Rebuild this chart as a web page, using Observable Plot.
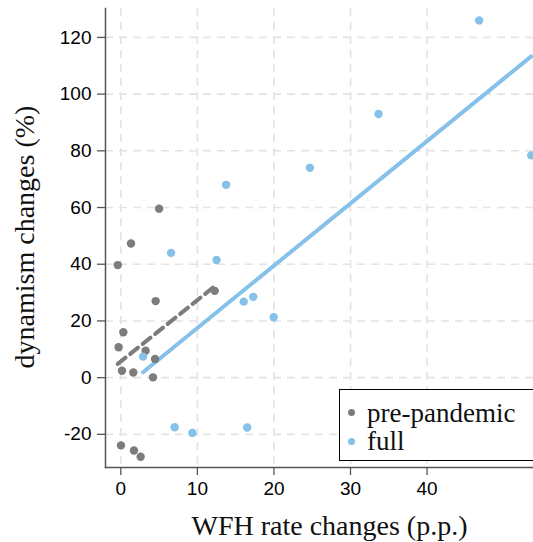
<!DOCTYPE html>
<html>
<head>
<meta charset="utf-8">
<script src="https://cdn.jsdelivr.net/npm/d3@7"></script>
<script src="https://cdn.jsdelivr.net/npm/@observablehq/plot@0.6"></script>
<style>
  html, body { margin: 0; padding: 0; background: #fff; }
  #wrap { position: relative; width: 533px; height: 542px; overflow: hidden; }
  #legend { position: absolute; left: 339px; top: 389px; width: 210px; height: 72px;
    border: 1px solid #000; background: #fff; box-sizing: border-box; font-size: 27px; color: #111; }
  .item { position: absolute; left: 0; height: 28px; line-height: 28px; display: flex; align-items: center; white-space: nowrap; }
  .sw { width: 7px; height: 7px; border-radius: 50%; margin-left: 8px; margin-right: 12px; }
</style>
</head>
<body>
<div id="wrap"></div>
<script>
// pre-pandemic series (WFH rate change p.p., dynamism change %)
const preX = [-0.4, 1.33, 5.0, 4.55, 0.33, -0.29, 3.24, 4.47, 0.15, 1.63, 4.2, 12.27, 0.02, 1.72, 2.59];
const preY = [39.7, 47.3, 59.6, 27.0, 16.0, 10.7, 9.5, 6.6, 2.4, 1.8, 0.1, 30.6, -23.9, -25.7, -27.9];
// full series
const fullX = [2.9, 6.56, 12.5, 7.03, 9.35, 46.8, 33.66, 53.6, 24.7, 13.75, 17.3, 16.05, 19.97, 16.5];
const fullY = [7.4, 44.0, 41.5, -17.5, -19.5, 126.0, 93.0, 78.4, 74.0, 68.0, 28.5, 26.8, 21.3, -17.6];
const xTicks = [0, 10, 20, 30, 40];
const yTicks = [-20, 0, 20, 40, 60, 80, 100, 120];
const seriesNames = ["pre-pandemic", "full"];
const seriesColors = ["#7c7c7c", "#85c1e9"];
const xTitle = ["WFH rate changes (p.p.)"];
const yTitle = ["dynamism changes (%)"];

const pre = preX.map((x, i) => ({x, y: preY[i]}));
const full = fullX.map((x, i) => ({x, y: fullY[i]}));

const serif = "'Liberation Serif', 'Times New Roman', serif";
const sans = "'Liberation Sans', Arial, sans-serif";
const fmt = d => (d < 0 ? "-" + Math.abs(d) : String(d));

const chart = Plot.plot({
  width: 533, height: 542,
  marginLeft: 105, marginRight: 0, marginTop: 8, marginBottom: 75,
  style: {background: "#fff", color: "#000"},
  x: {domain: [-2, 53.9], label: null},
  y: {domain: [-31.7, 130.2], label: null},
  marks: [
    Plot.gridX(xTicks, {stroke: "#e3e3e3", strokeOpacity: 1, strokeWidth: 1.6, strokeDasharray: "8,6"}),
    Plot.gridY(yTicks, {stroke: "#e3e3e3", strokeOpacity: 1, strokeWidth: 1.6, strokeDasharray: "8,6"}),
    Plot.linearRegressionY(pre, {x: "x", y: "y", ci: 0, stroke: seriesColors[0], strokeWidth: 4, strokeDasharray: "10,6"}),
    Plot.linearRegressionY(full, {x: "x", y: "y", ci: 0, stroke: seriesColors[1], strokeWidth: 4}),
    Plot.dot(pre, {x: "x", y: "y", r: 4.2, fill: seriesColors[0]}),
    Plot.dot(full, {x: "x", y: "y", r: 4.2, fill: seriesColors[1]}),
    Plot.frame({anchor: "left", stroke: "#555", strokeWidth: 1.5}),
    Plot.frame({anchor: "bottom", stroke: "#555", strokeWidth: 1.5}),
    Plot.axisX(xTicks, {tickSize: 8, tickPadding: 6, fontSize: 19, tickFormat: fmt, stroke: "#555", strokeWidth: 1.3, label: null}),
    Plot.axisY(yTicks, {tickSize: 8, tickPadding: 6, fontSize: 19, tickFormat: fmt, stroke: "#555", strokeWidth: 1.3, label: null}),
    Plot.text(xTitle, {className: "ttl", frameAnchor: "bottom", dx: 10, dy: 67, fontSize: 28, fill: "#111"}),
    Plot.text(yTitle, {className: "ttl", frameAnchor: "left", textAnchor: "middle", lineAnchor: "middle", dx: -80, dy: -1, rotate: -90, fontSize: 28, fill: "#111"})
  ]
});
// apply fonts directly on each text element
chart.querySelectorAll("text").forEach(el => { el.style.fontFamily = sans; });
chart.querySelectorAll(".ttl text, text.ttl").forEach(el => { el.style.fontFamily = serif; });
const wrap = document.getElementById("wrap");
wrap.appendChild(chart);

const legend = document.createElement("div");
legend.id = "legend";
legend.style.fontFamily = serif;
seriesNames.forEach((name, i) => {
  const it = document.createElement("div");
  it.className = "item";
  it.style.top = (8.5 + i * 28.5) + "px";
  it.style.fontFamily = serif;
  const sw = document.createElement("span");
  sw.className = "sw";
  sw.style.background = seriesColors[i];
  const t = document.createElement("span");
  t.textContent = name;
  t.style.fontFamily = serif;
  it.appendChild(sw); it.appendChild(t);
  legend.appendChild(it);
});
wrap.appendChild(legend);
</script>
</body>
</html>
